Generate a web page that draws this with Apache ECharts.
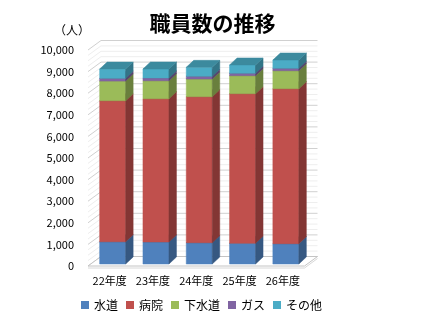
<!DOCTYPE html>
<html>
<head>
<meta charset="utf-8">
<script src="https://cdn.jsdelivr.net/npm/echarts@6/dist/echarts.min.js"></script>
<style>
html,body{margin:0;padding:0;background:#fff;}
#chart{width:425px;height:322px;}
</style>
</head>
<body>
<div id="chart"></div>
<script>
const categories = ['22年度', '23年度', '24年度', '25年度', '26年度'];
const seriesNames = ['水道', '病院', '下水道', 'ガス', 'その他'];
const suido   = [1030, 1020, 985, 960, 940];
const byoin   = [6530, 6630, 6760, 6925, 7175];
const gesuido = [910, 835, 820, 835, 835];
const gas     = [125, 125, 125, 110, 110];
const sonota  = [430, 420, 415, 385, 385];
const yMin = 0, yMax = 10000, yInterval = 1000, yMinorStep = 250;
const colors = ['#4F81BD', '#C0504D', '#9BBB59', '#8064A2', '#4BACC6'];

const values = [suido, byoin, gesuido, gas, sonota];
const FONT = "'Noto Sans CJK JP', 'Noto Sans', sans-serif";

// 3D projection offsets
const WX = 13, WY = -9.5;   // wall depth
const OX = 3, OY = -2;      // bar front face offset
const DX = 7.5, DY = -7;    // bar depth

function shade(hex, f) {
  const n = parseInt(hex.slice(1), 16);
  const r = Math.round(((n >> 16) & 255) * f), g = Math.round(((n >> 8) & 255) * f), b = Math.round((n & 255) * f);
  return 'rgb(' + r + ',' + g + ',' + b + ')';
}

function makeBarRenderer(color) {
  const side = shade(color, 0.68), top = shade(color, 0.8);
  return function (params, api) {
    const cat = api.value(0), lo = api.value(1), hi = api.value(2);
    const pLo = api.coord([cat, lo]), pHi = api.coord([cat, hi]);
    const w = api.size([1, 0])[0] * 0.6;
    const x0 = pLo[0] - w / 2 + OX, x1 = x0 + w;
    const yb = pLo[1] + OY, yt = pHi[1] + OY;
    return {
      type: 'group',
      children: [
        { type: 'rect', shape: { x: x0, y: yt, width: w, height: yb - yt },
          style: { fill: color, stroke: color, lineWidth: 0.5 } },
        { type: 'polygon', shape: { points: [[x1, yb], [x1 + DX, yb + DY], [x1 + DX, yt + DY], [x1, yt]] },
          style: { fill: side, stroke: side, lineWidth: 0.5 } },
        { type: 'polygon', shape: { points: [[x0, yt], [x1, yt], [x1 + DX, yt + DY], [x0 + DX, yt + DY]] },
          style: { fill: top, stroke: top, lineWidth: 0.5 } }
      ]
    };
  };
}

function renderWalls(params, api) {
  const cs = params.coordSys;
  const L = cs.x, R = cs.x + cs.width;
  const children = [];
  for (let v = yMin; v <= yMax; v += yMinorStep) {
    const y = api.coord([0, v])[1];
    const major = v % yInterval === 0;
    const c = major ? '#D0D0D0' : '#EEEEEE';
    children.push({ type: 'line', shape: { x1: L + WX, y1: y + WY, x2: R + WX, y2: y + WY },
      style: { stroke: c, lineWidth: 1 } });
    children.push({ type: 'line', shape: { x1: L, y1: y, x2: L + WX, y2: y + WY },
      style: { stroke: c, lineWidth: 1 } });
  }
  const y0 = api.coord([0, yMin])[1];
  children.push({ type: 'polygon', shape: { points: [[L, y0], [R, y0], [R + WX, y0 + WY], [L + WX, y0 + WY]] },
    style: { fill: '#ffffff', stroke: '#C4C4C4', lineWidth: 1 } });
  children.push({ type: 'polyline', shape: { points: [[L, y0 + 2], [R, y0 + 2], [R + WX, y0 + WY + 2]] },
    style: { fill: null, stroke: '#D8D8D8', lineWidth: 1 } });
  return { type: 'group', children: children };
}

const series = [{
  type: 'custom',
  name: '_walls',
  renderItem: renderWalls,
  data: [[0, 0]],
  silent: true,
  z: 1
}];
values.forEach(function (arr, si) {
  const data = arr.map(function (v, i) {
    let base = 0;
    for (let k = 0; k < si; k++) base += values[k][i];
    return [i, base, base + v];
  });
  series.push({
    type: 'custom',
    name: seriesNames[si],
    renderItem: makeBarRenderer(colors[si]),
    encode: { x: 0, y: [1, 2] },
    itemStyle: { color: colors[si] },
    data: data,
    z: 2
  });
});

const chart = echarts.init(document.getElementById('chart'));
chart.setOption({
  animation: false,
  backgroundColor: '#ffffff',
  color: colors,
  title: {
    text: '職員数の推移',
    left: 'center',
    top: 8,
    textStyle: { fontFamily: FONT, fontSize: 21, fontWeight: 'bold', color: '#000' }
  },
  graphic: [{
    type: 'text', left: 54, top: 24,
    style: { text: '（人）', font: '12px ' + FONT, fill: '#000' }
  }],
  legend: {
    data: seriesNames,
    left: 76,
    top: 294,
    icon: 'rect',
    itemWidth: 8,
    itemHeight: 8,
    itemGap: 8,
    textStyle: { fontFamily: FONT, fontSize: 12, color: '#000' }
  },
  grid: { left: 88, right: 120.5, top: 50, bottom: 56, containLabel: false },
  xAxis: {
    type: 'category',
    data: categories,
    axisLine: { show: false },
    axisTick: { show: false },
    axisLabel: { interval: 0, margin: 9, fontFamily: FONT, fontSize: 11, color: '#000' }
  },
  yAxis: {
    type: 'value',
    min: yMin, max: yMax, interval: yInterval,
    axisLine: { show: false },
    axisTick: { show: false },
    splitLine: { show: false },
    axisLabel: {
      margin: 14, fontFamily: FONT, fontSize: 11, color: '#000',
      formatter: function (v) { return v.toLocaleString('en-US'); }
    }
  },
  series: series
});
</script>
</body>
</html>
